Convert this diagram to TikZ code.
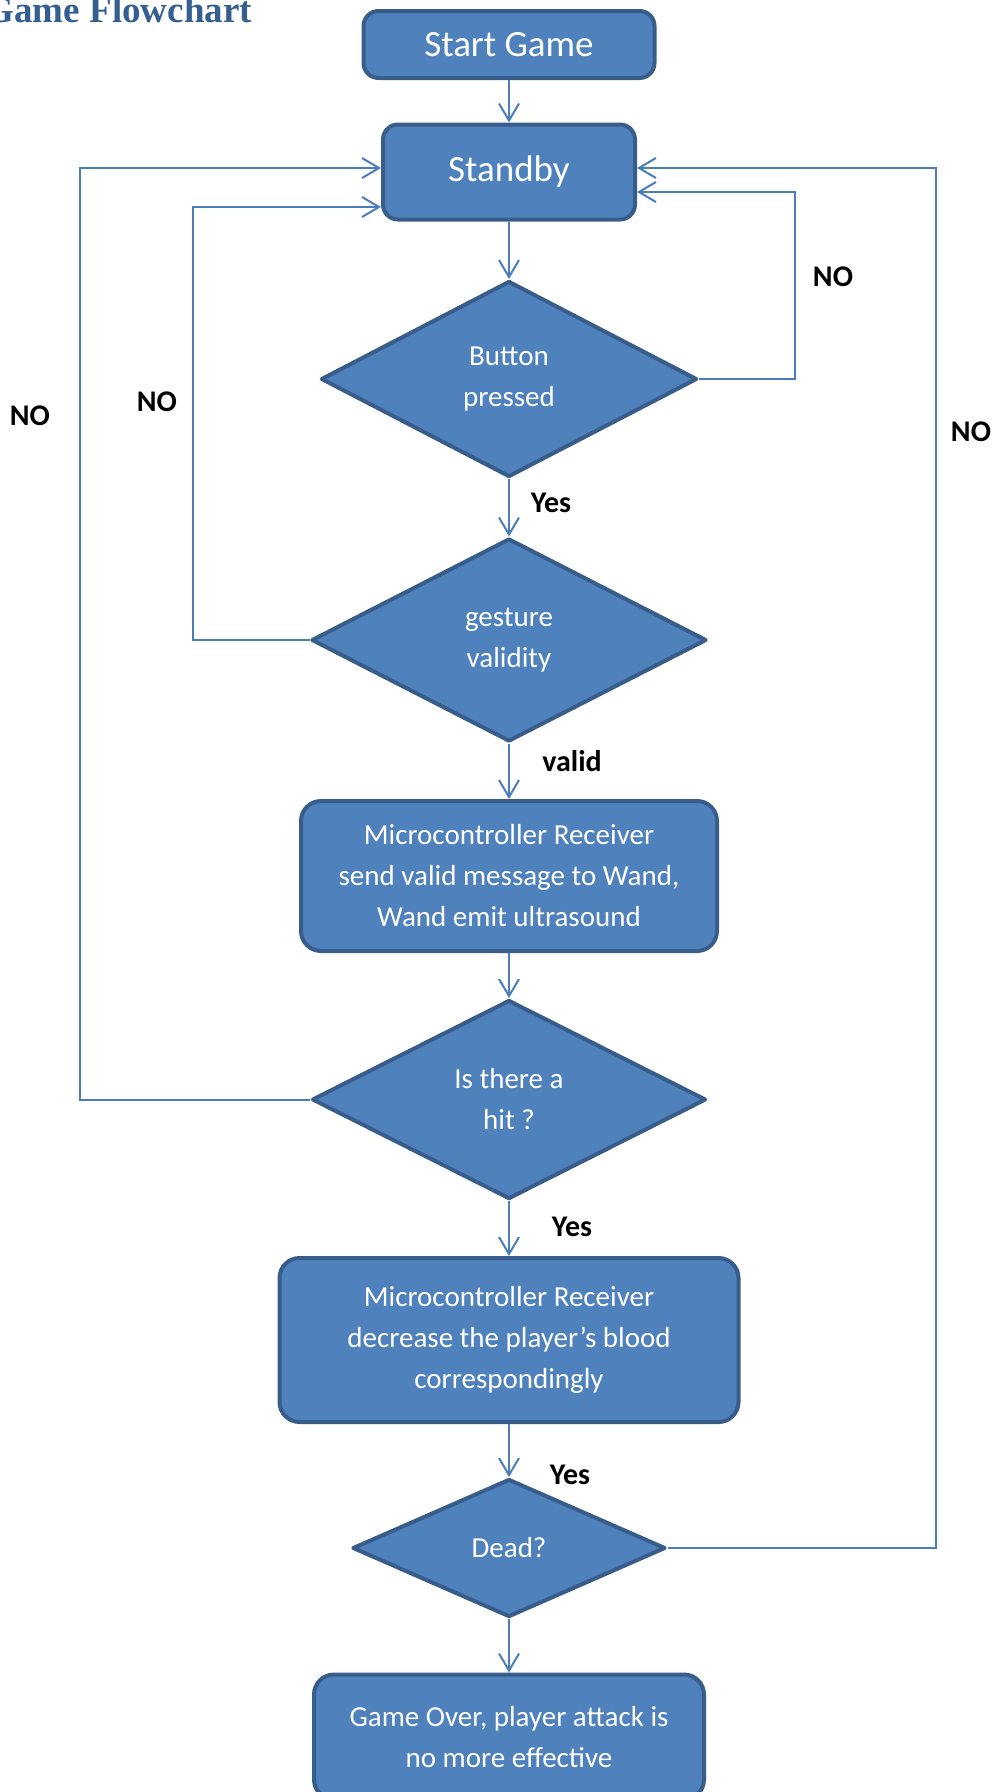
\documentclass[tikz,border=0pt]{standalone}
\usepackage{fontspec}
\setmainfont{Carlito}
\newfontfamily\titlefont{Liberation Serif}
\usepackage{tikz}
\usetikzlibrary{shapes.geometric,arrows.meta}

\definecolor{boxfill}{HTML}{4F81BD}
\definecolor{boxline}{HTML}{385D8A}
\definecolor{linkline}{HTML}{4A7EBB}
\definecolor{titleblue}{HTML}{365F91}

\tikzset{
  block/.style={draw=boxline, fill=boxfill, line width=4pt, rounded corners=20pt, text=white, align=center, inner sep=0pt, font=\fontsize{29}{41}\selectfont},
  bigblock/.style={block, rounded corners=15pt, font=\fontsize{37}{44}\selectfont},
  decision/.style={diamond, draw=boxline, fill=boxfill, line width=4pt, line join=round, text=white, align=center, inner sep=0pt, font=\fontsize{29}{41}\selectfont},
  arr/.style={draw=linkline, line width=2pt, -{Straight Barb[length=17pt,width=20pt,line width=2pt]}},
  lbl/.style={font=\fontsize{30}{36}\selectfont\bfseries}
}

\begin{document}
\begin{tikzpicture}[x=1pt,y=-1pt]
  \useasboundingbox (0,0) rectangle (993,1792);
  \clip (0,0) rectangle (993,1792);
  \node[anchor=base east, inner sep=0pt, text=titleblue, font=\titlefont\bfseries\fontsize{37}{40}\selectfont] (title) at (252,22) {Game Flowchart};

  \node[bigblock, minimum width=291pt, minimum height=67pt] (start) at (509,44.5) {Start Game};
  \node[bigblock, minimum width=252pt, minimum height=95pt] (standby) at (509,172) {Standby};
  \node[decision, minimum width=376pt, minimum height=196pt] (btn) at (509,379) {Button\\pressed};
  \node[decision, minimum width=395pt, minimum height=203pt] (gest) at (509,640) {gesture\\validity};
  \node[block, minimum width=416pt, minimum height=150pt] (micro) at (509,876) {Microcontroller Receiver\\send valid message to Wand,\\Wand emit ultrasound};
  \node[decision, minimum width=394pt, minimum height=199pt] (hit) at (509,1099.5) {Is there a\\hit ?};
  \node[block, minimum width=459pt, minimum height=164pt] (dec) at (509,1340) {Microcontroller Receiver\\decrease the player’s blood\\correspondingly};
  \node[decision, minimum width=313pt, minimum height=138pt] (dead) at (509,1548) {Dead?};
  \node[block, minimum width=390pt, minimum height=125pt] (over) at (509,1737) {Game Over, player attack is\\no more effective};

  \foreach \a/\b in {start/standby,standby/btn,btn/gest,gest/micro,micro/hit,hit/dec,dec/dead,dead/over}
  {
  \draw[arr] (\a) -- (\b);
  }

  \coordinate (rIn) at (795,0);
  \coordinate (rOut) at (936,0);
  \coordinate (lIn) at (193,0);
  \coordinate (lOut) at (80,0);
  \draw[arr] (btn.east) -- (btn.east -| rIn) |- ([yshift=-20pt]standby.east);
  \draw[arr] (dead.east) -- (dead.east -| rOut) |- ([yshift=4pt]standby.east);
  \draw[arr] (gest.west) -- (gest.west -| lIn) |- ([yshift=-35pt]standby.west);
  \draw[arr] (hit.west) -- (hit.west -| lOut) |- ([yshift=4pt]standby.west);

  \node[lbl] (noBtn) at (833,277) {NO};
  \node[lbl] (noGest) at (157,402) {NO};
  \node[lbl] (noHit) at (30,416) {NO};
  \node[lbl] (noDead) at (971,432) {NO};
  \node[lbl] (yesBtn) at (551,503) {Yes};
  \node[lbl] (validGest) at (572,761) {valid};
  \node[lbl] (yesHit) at (572,1227) {Yes};
  \node[lbl] (yesDec) at (570,1475) {Yes};

\end{tikzpicture}
\end{document}
